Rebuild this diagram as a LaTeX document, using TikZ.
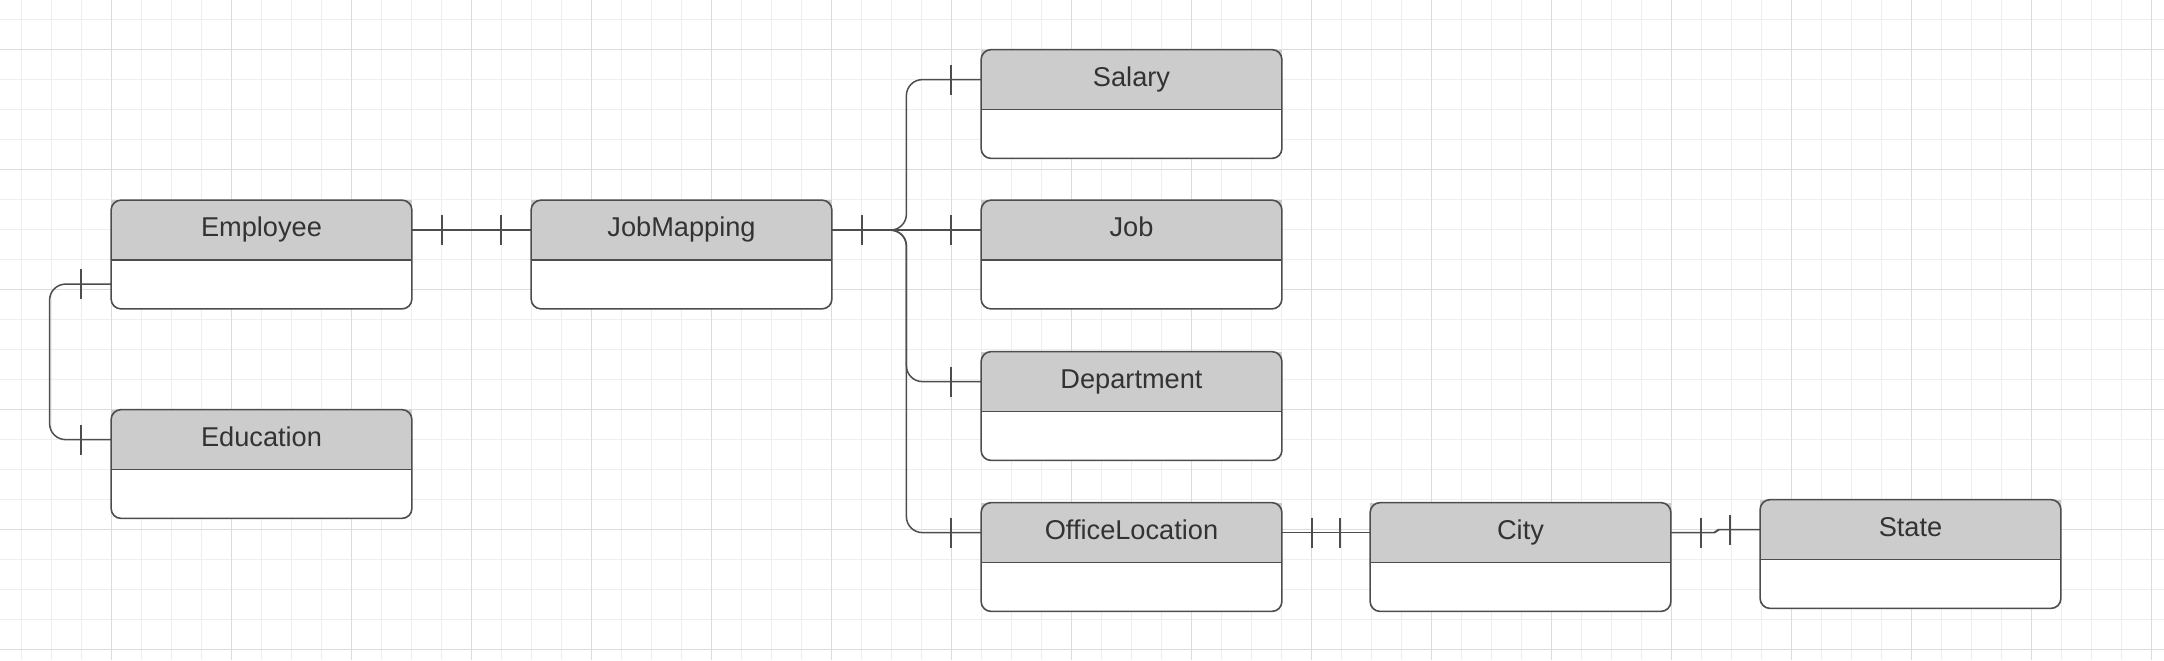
\documentclass[tikz,border=0pt]{standalone}
\usepackage{fontspec}
\setmainfont{Liberation Sans}
\definecolor{gridminor}{HTML}{EEEEEE}
\definecolor{gridmajor}{HTML}{DCDCDC}
\definecolor{headcol}{HTML}{CCCCCC}
\definecolor{bordercol}{HTML}{4D4D4D}
\definecolor{textcol}{HTML}{333333}
\tikzset{
  entbox/.style={minimum width=150pt, minimum height=54pt, inner sep=0pt, fill=white, rounded corners=5pt},
  boxline/.style={draw=bordercol, line width=0.8pt},
  titletext/.style={text=textcol, font=\fontsize{13.6}{16}\selectfont, inner sep=0pt, anchor=base},
  conn/.style={draw=bordercol, line width=0.75pt},
  gminor/.style={draw=gridminor, line width=0.5pt},
  gmajor/.style={draw=gridmajor, line width=0.5pt}
}
\newcommand{\erentity}[3]{%
  \node[entbox] (#1) at (#2) {};
  \fill[headcol] (#1.north west) rectangle ([yshift=-30pt]#1.north east);
  \draw[boxline, rounded corners=5pt] (#1.north west) rectangle (#1.south east);
  \draw[boxline] ([yshift=-30pt]#1.north west) -- ([yshift=-30pt]#1.north east);
  \node[titletext] (#1-t) at ([yshift=-18.4pt]#1.north) {#3};
  \coordinate (#1-hw) at ([yshift=-15pt]#1.north west);
  \coordinate (#1-he) at ([yshift=-15pt]#1.north east);
  \coordinate (#1-bw) at ([yshift=-42pt]#1.north west);
}
\newcommand{\ertick}[2]{%
  \draw[conn] ([xshift=#1,yshift=7.5pt]#2) -- ([xshift=#1,yshift=-7.5pt]#2);
}
\begin{document}
\begin{tikzpicture}[x=0.5pt,y=-0.5pt]
\useasboundingbox (0,0) rectangle (2164,660);
\fill[white] (0,0) rectangle (2164,660);
% grid
\foreach \i in {0,...,71} \draw[gminor] ({21.7+30*\i},0) -- ({21.7+30*\i},660);
\foreach \j in {0,...,21} \draw[gminor] (0,{19.3+30*\j}) -- (2164,{19.3+30*\j});
\foreach \i in {0,...,17} \draw[gmajor] ({111.7+120*\i},0) -- ({111.7+120*\i},660);
\foreach \j in {0,...,5} \draw[gmajor] (0,{49.3+120*\j}) -- (2164,{49.3+120*\j});
% entities
\erentity{emp}{261.5,254.5}{Employee}
\erentity{edu}{261.5,464}{Education}
\erentity{jm}{681.5,254.5}{JobMapping}
\erentity{sal}{1131.5,104}{Salary}
\erentity{job}{1131.5,254.5}{Job}
\erentity{dep}{1131.5,406}{Department}
\erentity{off}{1131.5,557}{OfficeLocation}
\erentity{city}{1520.5,557}{City}
\erentity{state}{1910.5,554}{State}
% connectors
\draw[conn] (emp-he) -- (jm-hw);
\ertick{15pt}{emp-he}\ertick{-15pt}{jm-hw}
\draw[conn, rounded corners=8pt] (emp-bw) -- ([xshift=-30.75pt]emp-bw) |- (edu-hw);
\ertick{-15pt}{emp-bw}\ertick{-15pt}{edu-hw}
\draw[conn] (jm-he) -- (job-hw);
\draw[conn, rounded corners=8pt] (jm-he) -- ([xshift=37.25pt]jm-he) |- (sal-hw);
\draw[conn, rounded corners=8pt] (jm-he) -- ([xshift=37.25pt]jm-he) |- (dep-hw);
\draw[conn, rounded corners=8pt] (jm-he) -- ([xshift=37.25pt]jm-he) |- (off-hw);
\ertick{15pt}{jm-he}
\ertick{-15pt}{sal-hw}\ertick{-15pt}{job-hw}\ertick{-15pt}{dep-hw}\ertick{-15pt}{off-hw}
\draw[conn] (off-he) -- (city-hw);
\ertick{15pt}{off-he}\ertick{-15pt}{city-hw}
\draw[conn, rounded corners=1pt] (city-he) -- ([xshift=22.5pt]city-he) -- ([xshift=-21.5pt]state-hw) -- (state-hw);
\ertick{15pt}{city-he}\ertick{-15pt}{state-hw}
\end{tikzpicture}
\end{document}
